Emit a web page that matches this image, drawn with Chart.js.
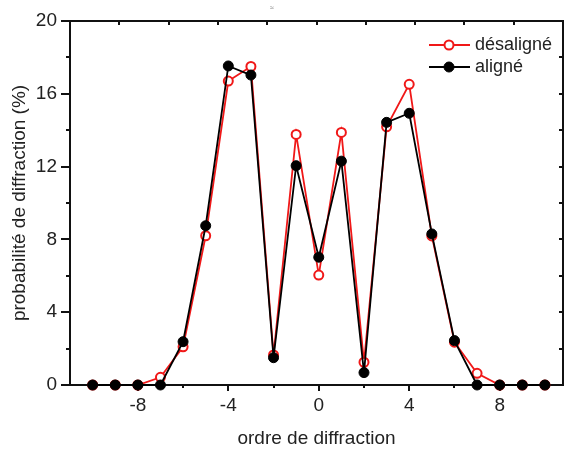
<!DOCTYPE html>
<html>
<head>
<meta charset="utf-8">
<script src="https://cdn.jsdelivr.net/npm/chart.js@4.4.1/dist/chart.umd.min.js"></script>
<style>
  html, body { margin: 0; padding: 0; background: #fff; }
  #wrap { width: 565px; height: 454px; }
</style>
</head>
<body>
<div id="wrap"><canvas id="chart" width="565" height="454"></canvas></div>
<script>
// ordre de diffraction
const orders = [-10, -9, -8, -7, -6, -5, -4, -3, -2, -1, 0, 1, 2, 3, 4, 5, 6, 7, 8, 9, 10];
// probabilité (%)
const desaligne = [0, 0, 0, 0.42, 2.1, 8.2, 16.7, 17.5, 1.65, 13.77, 6.04, 13.88, 1.25, 14.19, 16.52, 8.19, 2.35, 0.64, 0, 0, 0];
const aligne = [0, 0, 0, 0, 2.38, 8.75, 17.53, 17.03, 1.5, 12.05, 7.02, 12.3, 0.68, 14.43, 14.93, 8.3, 2.44, 0, 0, 0, 0];

const xTicks = [-10, -8, -6, -4, -2, 0, 2, 4, 6, 8, 10];
const xLabels = ["", "-8", "", "-4", "", "0", "", "4", "", "8", ""];
const yTicks = [0, 2, 4, 6, 8, 10, 12, 14, 16, 18, 20];
const yLabels = ["0", "", "4", "", "8", "", "12", "", "16", "", "20"];
const topTicks = [1, 2, 3, 4, 5, 6, 7, 8, 9];

const FONT = "'Liberation Sans', Arial, sans-serif";
const RED = "#f01818";

function pts(vals) {
    return orders.map((o, i) => ({ x: o, y: vals[i] }));
}

// axis box with Origin-like ticks
const framePlugin = {
    id: "frame",
    beforeDatasetsDraw(chart) {
        const { ctx, chartArea: a, scales } = chart;
        const x = scales.x, y = scales.y, x2 = scales.x2;
        ctx.save();
        ctx.strokeStyle = "#111";
        ctx.lineWidth = 2;
        ctx.lineCap = "butt";
        ctx.strokeRect(a.left, a.top, a.right - a.left, a.bottom - a.top);
        ctx.beginPath();
        yTicks.forEach((v, i) => {
            const py = Math.round(y.getPixelForValue(v));
            const len = yLabels[i] ? 9 : 4;
            ctx.moveTo(a.left - len, py);
            ctx.lineTo(a.left, py);
            ctx.moveTo(a.right, py);
            ctx.lineTo(a.right - 4, py);
        });
        xTicks.forEach((v, i) => {
            const px = Math.round(x.getPixelForValue(v));
            const len = xLabels[i] ? 6 : 3;
            ctx.moveTo(px, a.bottom);
            ctx.lineTo(px, a.bottom + len);
        });
        topTicks.forEach(v => {
            const px = Math.round(x2.getPixelForValue(v));
            ctx.moveTo(px, a.top);
            ctx.lineTo(px, a.top + 4);
        });
        ctx.stroke();
        // small mark above the frame
        ctx.fillStyle = "#777";
        ctx.font = "7px " + FONT;
        ctx.textAlign = "center";
        ctx.fillText("≈", 272, 10);
        ctx.restore();
    }
};

const legendPlugin = {
    id: "insideLegend",
    afterDatasetsDraw(chart) {
        const { ctx } = chart;
        const rows = [chart.data.datasets[0], chart.data.datasets[1]];
        ctx.save();
        rows.forEach((ds, i) => {
            const yy = 45 + i * 22;
            ctx.strokeStyle = ds.borderColor;
            ctx.lineWidth = 2;
            ctx.beginPath();
            ctx.moveTo(429, yy);
            ctx.lineTo(470, yy);
            ctx.stroke();
            ctx.beginPath();
            ctx.arc(449, yy, ds.pointRadius, 0, Math.PI * 2);
            ctx.fillStyle = ds.pointBackgroundColor;
            ctx.fill();
            ctx.lineWidth = ds.pointBorderWidth;
            ctx.strokeStyle = ds.pointBorderColor;
            ctx.stroke();
            ctx.fillStyle = "#222";
            ctx.font = "18px " + FONT;
            ctx.textAlign = "left";
            ctx.textBaseline = "middle";
            ctx.fillText(ds.label, 475, yy);
        });
        ctx.restore();
    }
};

new Chart(document.getElementById("chart"), {
    type: "line",
    data: {
        datasets: [
            {
                label: "désaligné",
                data: pts(desaligne),
                borderColor: RED,
                borderWidth: 1.8,
                pointRadius: 4.5,
                pointBorderWidth: 2,
                pointBorderColor: RED,
                pointBackgroundColor: "#fff",
                order: 2,
                clip: false,
            },
            {
                label: "aligné",
                data: pts(aligne),
                borderColor: "#000",
                borderWidth: 1.8,
                pointRadius: 5,
                pointBorderWidth: 1,
                pointBorderColor: "#000",
                pointBackgroundColor: "#000",
                order: 1,
                clip: false,
            },
        ],
    },
    options: {
        responsive: false,
        animation: false,
        layout: { autoPadding: false, padding: { top: 21, right: 2, left: 0, bottom: 0 } },
        plugins: { legend: { display: false }, tooltip: { enabled: false } },
        scales: {
            x: {
                type: "linear",
                min: -11,
                max: 10.8,
                afterBuildTicks: s => { s.ticks = xTicks.map(v => ({ value: v })); },
                afterFit: s => { s.height = 69; s.paddingLeft = 0; s.paddingRight = 0; },
                grid: { display: false, drawTicks: false },
                border: { display: false },
                ticks: {
                    autoSkip: false,
                    maxRotation: 0,
                    padding: 9,
                    color: "#222",
                    font: { family: FONT, size: 19 },
                    callback: (v, i) => xLabels[i],
                },
                title: {
                    display: true,
                    text: "ordre de diffraction",
                    color: "#222",
                    font: { family: FONT, size: 19 },
                    padding: { top: 4, bottom: 4 },
                },
            },
            x2: {
                type: "linear",
                position: "top",
                display: false,
                min: 0,
                max: 10,
            },
            y: {
                min: 0,
                max: 20,
                afterBuildTicks: s => { s.ticks = yTicks.map(v => ({ value: v })); },
                afterFit: s => { s.width = 70; s.paddingTop = 0; s.paddingBottom = 0; },
                grid: { display: false, drawTicks: false },
                border: { display: false },
                ticks: {
                    autoSkip: false,
                    padding: 13,
                    color: "#222",
                    font: { family: FONT, size: 19 },
                    callback: (v, i) => yLabels[i],
                },
                title: {
                    display: true,
                    text: "probabilité de diffraction (%)",
                    color: "#222",
                    font: { family: FONT, size: 19 },
                    padding: { top: 8, bottom: 8 },
                },
            },
        },
    },
    plugins: [framePlugin, legendPlugin],
});
</script>
</body>
</html>
